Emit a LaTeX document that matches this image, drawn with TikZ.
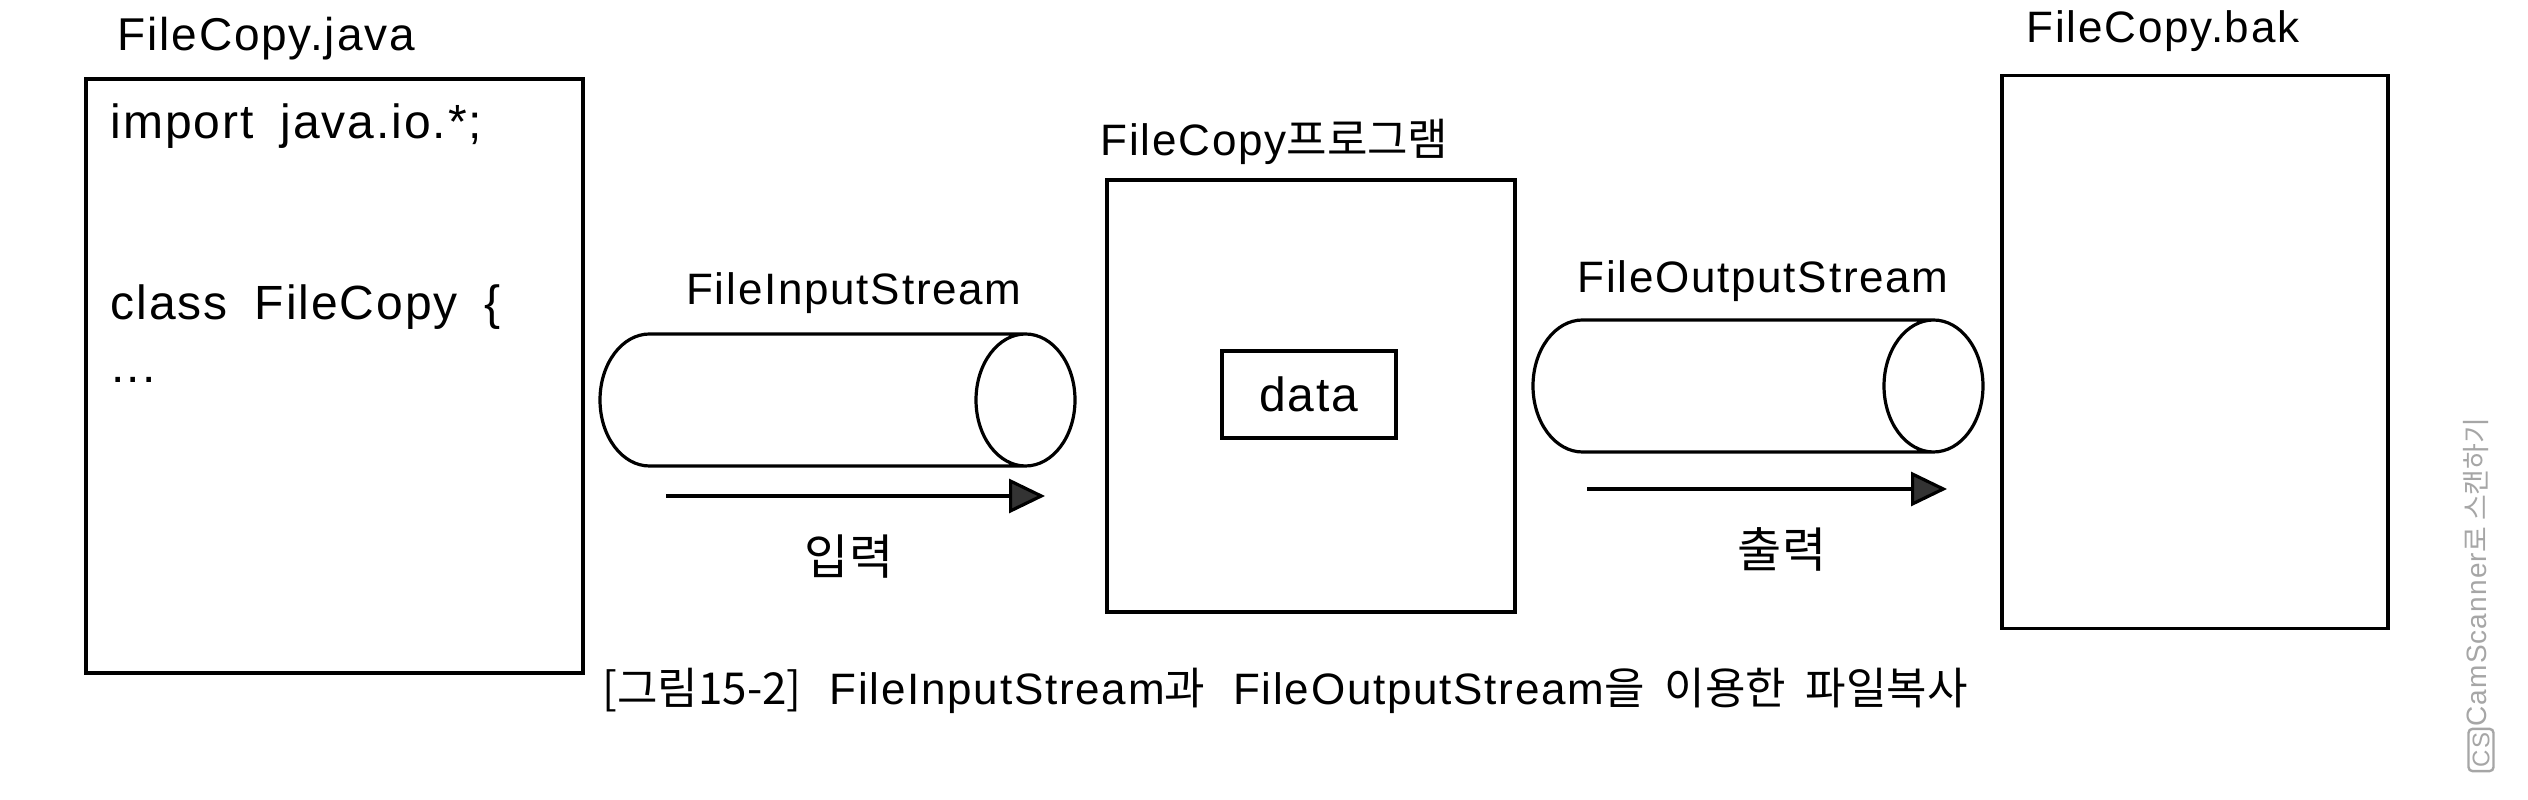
\documentclass[tikz,border=0pt]{standalone}
\usepackage{fontspec}
\setmainfont{Liberation Sans}[LetterSpace=4]
\newfontfamily\krfont{Noto Sans CJK KR}
\usepackage{tikz}
\usetikzlibrary{arrows.meta,shapes.geometric}

\begin{document}
\begin{tikzpicture}[x=0.25pt, y=-0.25pt, line width=0.8pt,
    filebox/.style={draw, rectangle, inner sep=0pt},
    pipe/.style={draw, cylinder, aspect=0.75, inner sep=0pt, anchor=shape center},
    flowarrow/.style={-{Triangle[length=9pt, width=8.5pt, fill=black!80]}},
    txt/.style={inner sep=0pt, font=\fontsize{11}{13}\selectfont},
    code/.style={inner sep=0pt, anchor=base west, font=\fontsize{12}{14}\selectfont}]

    \useasboundingbox (0,0) rectangle (2528,800);

    % source file
    \node[txt, anchor=base west, font=\fontsize{11.5}{13}\selectfont](srcname) at (116, 51) {FileCopy.java};
    \node[filebox, minimum width=124.25pt, minimum height=148.5pt](src) at (334.5, 376) {};
    \node[code](src1) at (109, 139) {import\hspace{3pt} java.io.*;};
    \node[code](src2) at (109, 320) {class\hspace{3pt} FileCopy\hspace{3pt} \{};
    \node[code](src3) at (110, 383) {...};

    % input stream
    \node[txt, anchor=base](pinname) at (854, 305) {FileInputStream};
    \node[pipe, minimum height=118.75pt](pin) at (837.5, 400) {\rule{0pt}{33pt}};
    \coordinate (a1s) at (666, 496);
    \coordinate (a1e) at (1045, 496);
    \draw[flowarrow] (a1s) -- (a1e);
    \node[txt, font=\krfont\fontsize{12}{14}\selectfont](pinlab) at (849, 557) {입력};

    % program
    \node[txt, anchor=base west](progname) at (1099, 156) {FileCopy{\krfont 프로그램}};
    \node[filebox, minimum width=102pt, minimum height=108pt](prog) at (1311, 396) {};
    \node[filebox, minimum width=43.5pt, minimum height=21.75pt, font=\fontsize{12}{14}\selectfont](data) at (1309, 394.5) {data};

    % output stream
    \node[txt, anchor=base](poutname) at (1763, 293) {FileOutputStream};
    \node[pipe, minimum height=112.5pt](pout) at (1758, 386) {\rule{0pt}{33pt}};
    \coordinate (a2s) at (1587, 489);
    \coordinate (a2e) at (1947, 489);
    \draw[flowarrow] (a2s) -- (a2e);
    \node[txt, font=\krfont\fontsize{12}{14}\selectfont](poutlab) at (1782, 549) {출력};

    % target file
    \node[txt, anchor=base west](dstname) at (2025, 43) {FileCopy.bak};
    \node[filebox, minimum width=96.5pt, minimum height=138.25pt](dst) at (2195, 352) {};

    % caption
    \node[txt, anchor=base](cap) at (1285, 705) {{\krfont [그림15-2]}\ \ FileInputStream{\krfont 과}\ \ FileOutputStream{\krfont 을\ \ 이용한\ \ 파일복사}};

    % scanner mark
    \node[inner sep=0pt, rotate=90, anchor=west, text=black!35, font=\fontsize{7}{8}\selectfont](scan) at (2476, 728) {CamScanner{\krfont 로 스캔하기}};
    \node[draw=black!35, line width=0.6pt, rounded corners=1pt, rotate=90, inner sep=1pt, text=black!35, font=\fontsize{6}{7}\selectfont](cs) at (2481, 750) {CS};

\end{tikzpicture}
\end{document}
